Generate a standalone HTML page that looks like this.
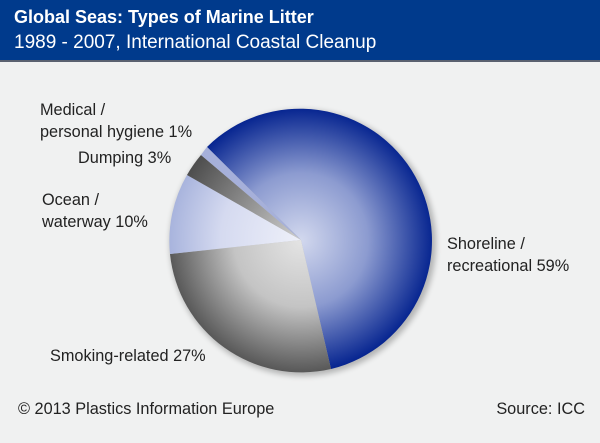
<!DOCTYPE html>
<html><head><meta charset="utf-8"><style>
body{margin:0;width:600px;height:443px;background:#f0f1f1;font-family:"Liberation Sans","DejaVu Sans",sans-serif;overflow:hidden;position:relative}
.hdr{position:absolute;left:0;top:0;width:600px;height:62px;background:#003a8c;border-bottom:2px solid #5a6170;box-sizing:border-box}
.t{position:absolute;left:14px;color:#fff;white-space:nowrap}
.l{position:absolute;color:#222;font-size:16.3px;line-height:22px;white-space:nowrap}
</style></head><body>
<div class="hdr"></div>
<div class="t" style="top:7px;font-size:18px;font-weight:bold">Global Seas: Types of Marine Litter</div>
<div class="t" style="top:32px;font-size:19px">1989 - 2007, International Coastal Cleanup</div>
<svg width="600" height="443" style="position:absolute;left:0;top:0">
<defs>
<filter id="sh" x="-20%" y="-20%" width="140%" height="140%"><feGaussianBlur stdDeviation="3"/></filter>
<radialGradient id="gb" gradientUnits="userSpaceOnUse" cx="301" cy="240" r="134"><stop offset="0" stop-color="#d2d8ee"/><stop offset="0.5" stop-color="#8c9bd0"/><stop offset="1" stop-color="#02218e"/></radialGradient>
<radialGradient id="gg" gradientUnits="userSpaceOnUse" cx="301" cy="240" r="134"><stop offset="0" stop-color="#e4e4e4"/><stop offset="0.5" stop-color="#c4c4c4"/><stop offset="1" stop-color="#555"/></radialGradient>
<radialGradient id="go" gradientUnits="userSpaceOnUse" cx="301" cy="240" r="134"><stop offset="0" stop-color="#eef0f9"/><stop offset="0.6" stop-color="#d5daf0"/><stop offset="1" stop-color="#a6b2dc"/></radialGradient>
<radialGradient id="gd" gradientUnits="userSpaceOnUse" cx="301" cy="240" r="134"><stop offset="0" stop-color="#d0d0d0"/><stop offset="1" stop-color="#4a4a4a"/></radialGradient>
</defs>
<circle cx="303" cy="243" r="133" fill="#000" opacity="0.25" filter="url(#sh)"/>
<path d="M301,240 L207,147 A132,132 0 1 1 331,369 Z" fill="url(#gb)"/>
<path d="M301,240 L331,369 A132,132 0 0 1 170,254 Z" fill="url(#gg)"/>
<path d="M301,240 L170,254 A132,132 0 0 1 187,175 Z" fill="url(#go)"/>
<path d="M301,240 L187,175 A132,132 0 0 1 201,155 Z" fill="url(#gd)"/>
<path d="M301,240 L201,155 A132,132 0 0 1 207,147 Z" fill="#a6b0da"/>
</svg>
<div class="l" style="left:40px;top:99px">Medical /<br>personal hygiene 1%</div>
<div class="l" style="left:78px;top:147px">Dumping 3%</div>
<div class="l" style="left:42px;top:189px">Ocean /<br>waterway 10%</div>
<div class="l" style="left:447px;top:233px">Shoreline /<br>recreational 59%</div>
<div class="l" style="left:50px;top:345px">Smoking-related 27%</div>
<div class="l" style="left:18px;top:398px">© 2013 Plastics Information Europe</div>
<div class="l" style="right:15px;top:398px">Source: ICC</div>
</body></html>
